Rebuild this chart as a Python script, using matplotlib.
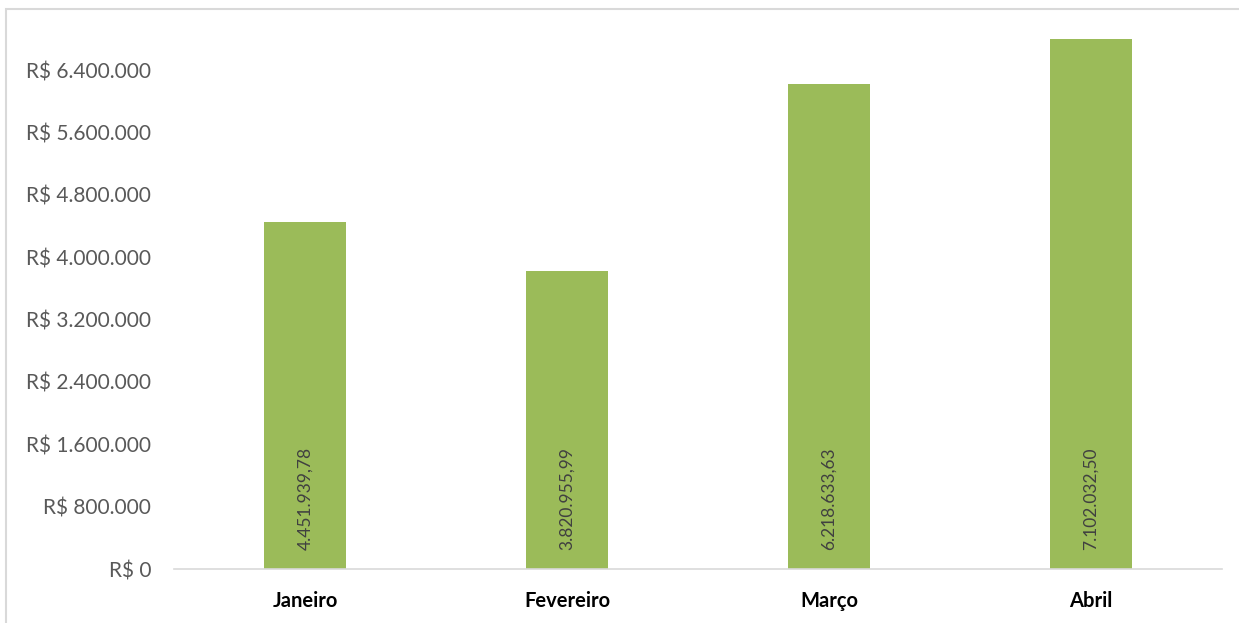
import matplotlib.pyplot as plt
from matplotlib.patches import Rectangle
from matplotlib.ticker import FuncFormatter, MultipleLocator

# Faturamento mensal (R$)
meses = ["Janeiro", "Fevereiro", "Março", "Abril"]
valores = [4451939.78, 3820955.99, 6218633.63, 7102032.50]
rotulos = ["4.451.939,78", "3.820.955,99", "6.218.633,63", "7.102.032,50"]

plt.rcParams["font.family"] = ["Lato", "DejaVu Sans"]

fig = plt.figure(figsize=(12.39, 6.23), dpi=100)
W, H = 1239, 623
ax = fig.add_axes([174 / W, 1 - 569 / H, (1222 - 174) / W, (569 - 39) / H])

# chart area border (runs off the right/bottom edges like the original)
fig.patches.append(Rectangle((6 / W, -0.1), 1.2, 1 - 9 / H + 0.1,
                             transform=fig.transFigure, fill=False,
                             edgecolor="#d9d9d9", linewidth=1.5))

x = range(len(meses))
ax.bar(x, valores, width=0.31, color="#9bbb59", zorder=2)

for i, lab in zip(x, rotulos):
    ax.text(i, 240000, lab, rotation=90, ha="center", va="bottom",
            fontsize=12.5, color="#404040", zorder=3)

ax.set_xlim(-0.5, len(meses) - 0.5)
ax.set_ylim(0, 6800000)
ax.yaxis.set_major_locator(MultipleLocator(800000))
ax.yaxis.set_major_formatter(FuncFormatter(
    lambda v, p: "R$ " + f"{int(v):,}".replace(",", ".")))

ax.set_xticks(list(x))
ax.set_xticklabels(meses, fontsize=14.5, fontweight="bold", color="black")
ax.tick_params(axis="y", labelsize=15, colors="#595959", length=0, pad=16.5)
ax.tick_params(axis="x", length=0, pad=16)

for s in ["top", "right", "left"]:
    ax.spines[s].set_visible(False)
ax.spines["bottom"].set_color("#d9d9d9")
ax.spines["bottom"].set_linewidth(1.2)

fig.savefig("out.png", dpi=100)
